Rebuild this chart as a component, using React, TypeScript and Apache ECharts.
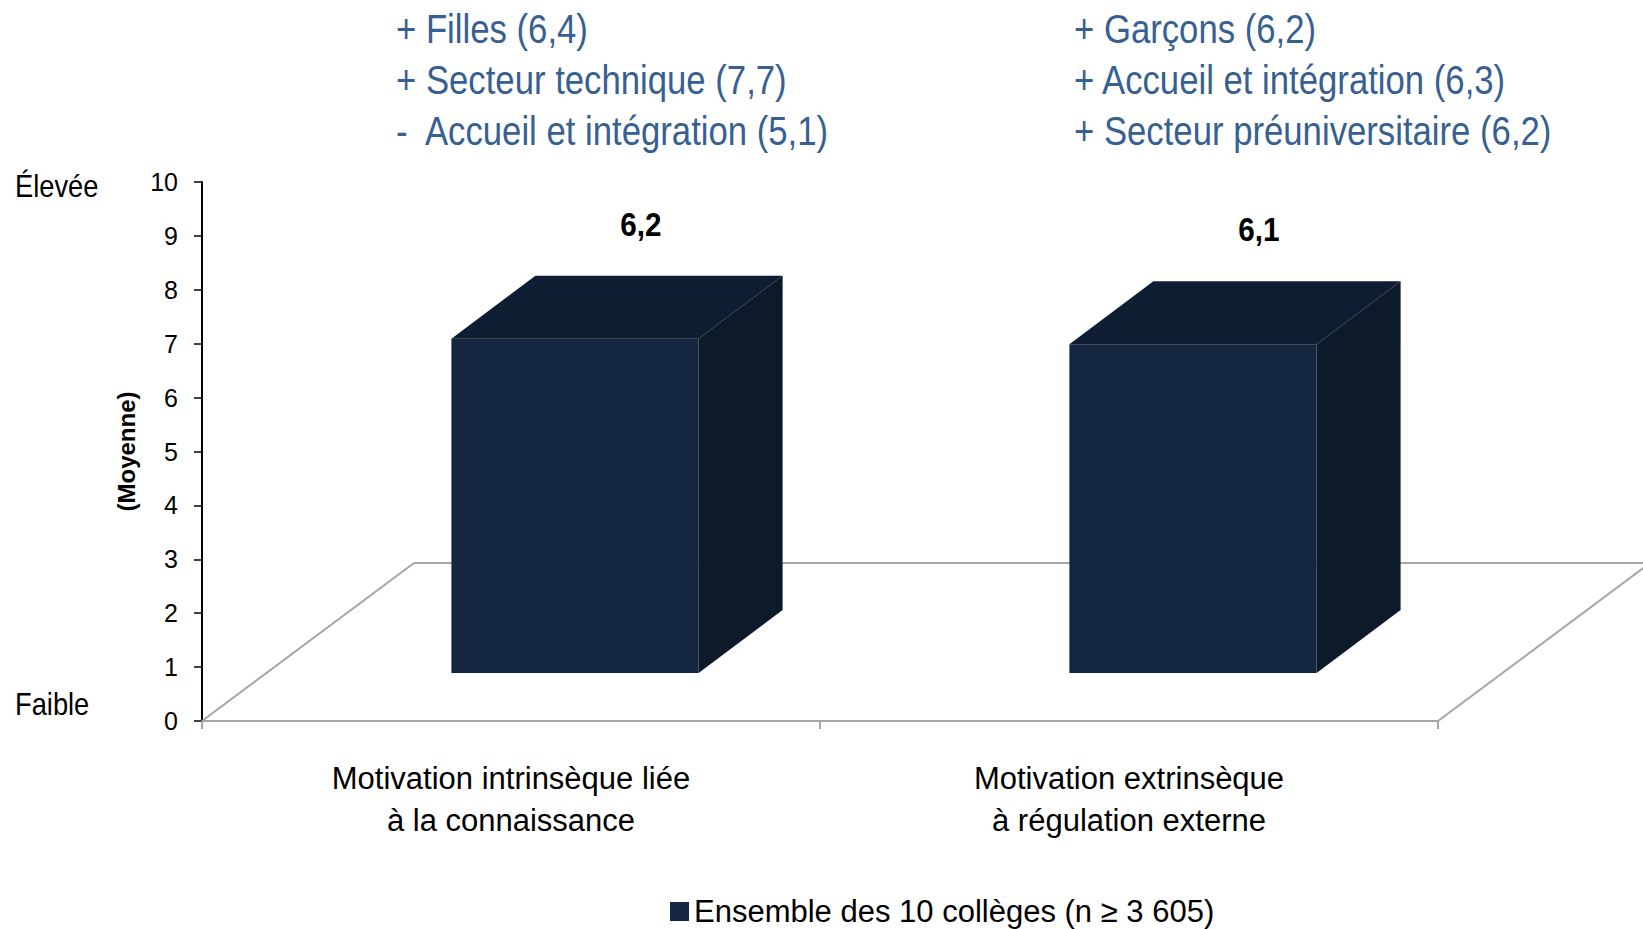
import React, { useEffect, useRef } from "react";
import * as echarts from "echarts";

const categories = [
  "Motivation intrinsèque liée\nà la connaissance",
  "Motivation extrinsèque\nà régulation externe",
];
const values = [6.2, 6.1];
const seriesName = "Ensemble des 10 collèges (n ≥ 3 605)";
const yAxisName = "(Moyenne)";
const yMin = 0;
const yMax = 10;
const yInterval = 1;
const scaleTop = "Élevée";
const scaleBottom = "Faible";
const leftNotes = ["+ Filles (6,4)", "+ Secteur technique (7,7)", "-  Accueil et intégration (5,1)"];
const rightNotes = ["+ Garçons (6,2)", "+ Accueil et intégration (6,3)", "+ Secteur préuniversitaire (6,2)"];

const FONT = "'Liberation Sans Narrow', 'Arial Narrow', 'Liberation Sans', Arial, sans-serif";
const FRONT = "#13253F";
const TOP = "#0E1D32";
const SIDE = "#0D1A2A";
const NOTE_COLOR = "#376092";

// 3D geometry (pixel offsets)
const BAR_SHIFT_X = 64;
const BAR_SHIFT_Y = -48;
const BAR_DEPTH_X = 84;
const BAR_DEPTH_Y = -63;
const FLOOR_DEPTH_X = 212;
const FLOOR_DEPTH_Y = -158;

export default function App() {
  const ref = useRef<HTMLDivElement>(null);
  useEffect(() => {
    if (!ref.current) return;
    const chart = echarts.init(ref.current, null, { renderer: "svg" });

    const noteLines = (arr: string[], x: number) =>
      arr.map((t, i) => ({
        type: "text",
        x,
        y: 29 + i * 51,
        scaleX: 0.868,
        style: {
          text: t,
          fill: NOTE_COLOR,
          fontSize: 40,
          fontFamily: FONT,
          verticalAlign: "middle",
          align: "left",
        },
      }));

    chart.setOption({
      animation: false,
      backgroundColor: "#ffffff",
      grid: { left: 202, right: 205, top: 182, bottom: 208, containLabel: false },
      legend: {
        left: 665,
        top: 891,
        icon: "rect",
        itemWidth: 19,
        itemHeight: 19,
        itemGap: 10,
        data: [seriesName],
        textStyle: { fontFamily: FONT, fontSize: 31, color: "#000" },
      },
      xAxis: {
        type: "category",
        data: categories,
        boundaryGap: true,
        axisLine: { lineStyle: { color: "#A6A6A6", width: 2 } },
        axisTick: { show: true, length: 8, lineStyle: { color: "#A6A6A6", width: 2 } },
        axisLabel: {
          color: "#000",
          fontFamily: FONT,
          fontSize: 31,
          lineHeight: 42,
          margin: 36,
          interval: 0,
        },
        splitLine: { show: false },
      },
      yAxis: {
        type: "value",
        min: yMin,
        max: yMax,
        interval: yInterval,
        name: yAxisName,
        nameLocation: "middle",
        nameRotate: 90,
        nameGap: 64,
        nameTextStyle: { fontFamily: FONT, fontSize: 24, fontWeight: "bold", color: "#000" },
        axisLine: { show: true, lineStyle: { color: "#000", width: 2 } },
        axisTick: { show: true, length: 8, inside: false, lineStyle: { color: "#000", width: 1.5 } },
        axisLabel: { color: "#000", fontFamily: FONT, fontSize: 25, margin: 24 },
        splitLine: { show: false },
      },
      graphic: [
        ...noteLines(leftNotes, 396),
        ...noteLines(rightNotes, 1074),
        {
          type: "text",
          x: 15,
          y: 186,
          scaleX: 0.88,
          style: { text: scaleTop, fill: "#000", fontSize: 31, fontFamily: FONT, verticalAlign: "middle" },
        },
        {
          type: "text",
          x: 15,
          y: 704,
          scaleX: 0.88,
          style: { text: scaleBottom, fill: "#000", fontSize: 31, fontFamily: FONT, verticalAlign: "middle" },
        },
      ],
      series: [
        {
          type: "custom",
          name: "floor",
          silent: true,
          z: 1,
          data: [[0, 0]],
          encode: { x: 0, y: 1 },
          renderItem: (params: any) => {
            const cs = params.coordSys;
            const x0 = cs.x;
            const x1 = cs.x + cs.width;
            const yb = cs.y + cs.height;
            const style = { stroke: "#A6A6A6", lineWidth: 2, fill: "none" };
            return {
              type: "group",
              children: [
                { type: "line", shape: { x1: x0, y1: yb, x2: x0 + FLOOR_DEPTH_X, y2: yb + FLOOR_DEPTH_Y }, style },
                { type: "line", shape: { x1: x1, y1: yb, x2: x1 + FLOOR_DEPTH_X, y2: yb + FLOOR_DEPTH_Y }, style },
                {
                  type: "line",
                  shape: { x1: x0 + FLOOR_DEPTH_X, y1: yb + FLOOR_DEPTH_Y, x2: x1 + FLOOR_DEPTH_X, y2: yb + FLOOR_DEPTH_Y },
                  style,
                },
              ],
            };
          },
        },
        {
          type: "custom",
          name: seriesName,
          z: 5,
          itemStyle: { color: FRONT },
          data: categories.map((_, i) => [i, values[i]]),
          encode: { x: 0, y: 1 },
          renderItem: (params: any, api: any) => {
            const idx = api.value(0);
            const v = api.value(1);
            const base = api.coord([idx, 0]);
            const top = api.coord([idx, v]);
            const band = api.size([1, 0])[0];
            const w = band * 0.4;
            const left = base[0] - w / 2 + BAR_SHIFT_X;
            const right = left + w;
            const bottom = base[1] + BAR_SHIFT_Y;
            const ty = top[1] + BAR_SHIFT_Y;
            const label = String(v).replace(".", ",");
            return {
              type: "group",
              children: [
                {
                  type: "rect",
                  shape: { x: left, y: ty, width: w, height: bottom - ty },
                  style: { fill: FRONT },
                },
                {
                  type: "polygon",
                  shape: {
                    points: [
                      [left, ty],
                      [right, ty],
                      [right + BAR_DEPTH_X, ty + BAR_DEPTH_Y],
                      [left + BAR_DEPTH_X, ty + BAR_DEPTH_Y],
                    ],
                  },
                  style: { fill: TOP },
                },
                {
                  type: "polygon",
                  shape: {
                    points: [
                      [right, ty],
                      [right + BAR_DEPTH_X, ty + BAR_DEPTH_Y],
                      [right + BAR_DEPTH_X, bottom + BAR_DEPTH_Y],
                      [right, bottom],
                    ],
                  },
                  style: { fill: SIDE },
                },
                {
                  type: "text",
                  x: base[0] + 130,
                  y: top[1] - 162,
                  scaleX: 0.9,
                  style: {
                    text: label,
                    fill: "#000",
                    fontSize: 33,
                    fontWeight: "bold",
                    fontFamily: FONT,
                    align: "center",
                    verticalAlign: "middle",
                  },
                },
              ],
            };
          },
        },
      ],
    });
    return () => chart.dispose();
  }, []);
  return (
    <div
      ref={ref}
      style={{ position: "absolute", left: 0, top: 0, width: 1643, height: 929 }}
    />
  );
}
